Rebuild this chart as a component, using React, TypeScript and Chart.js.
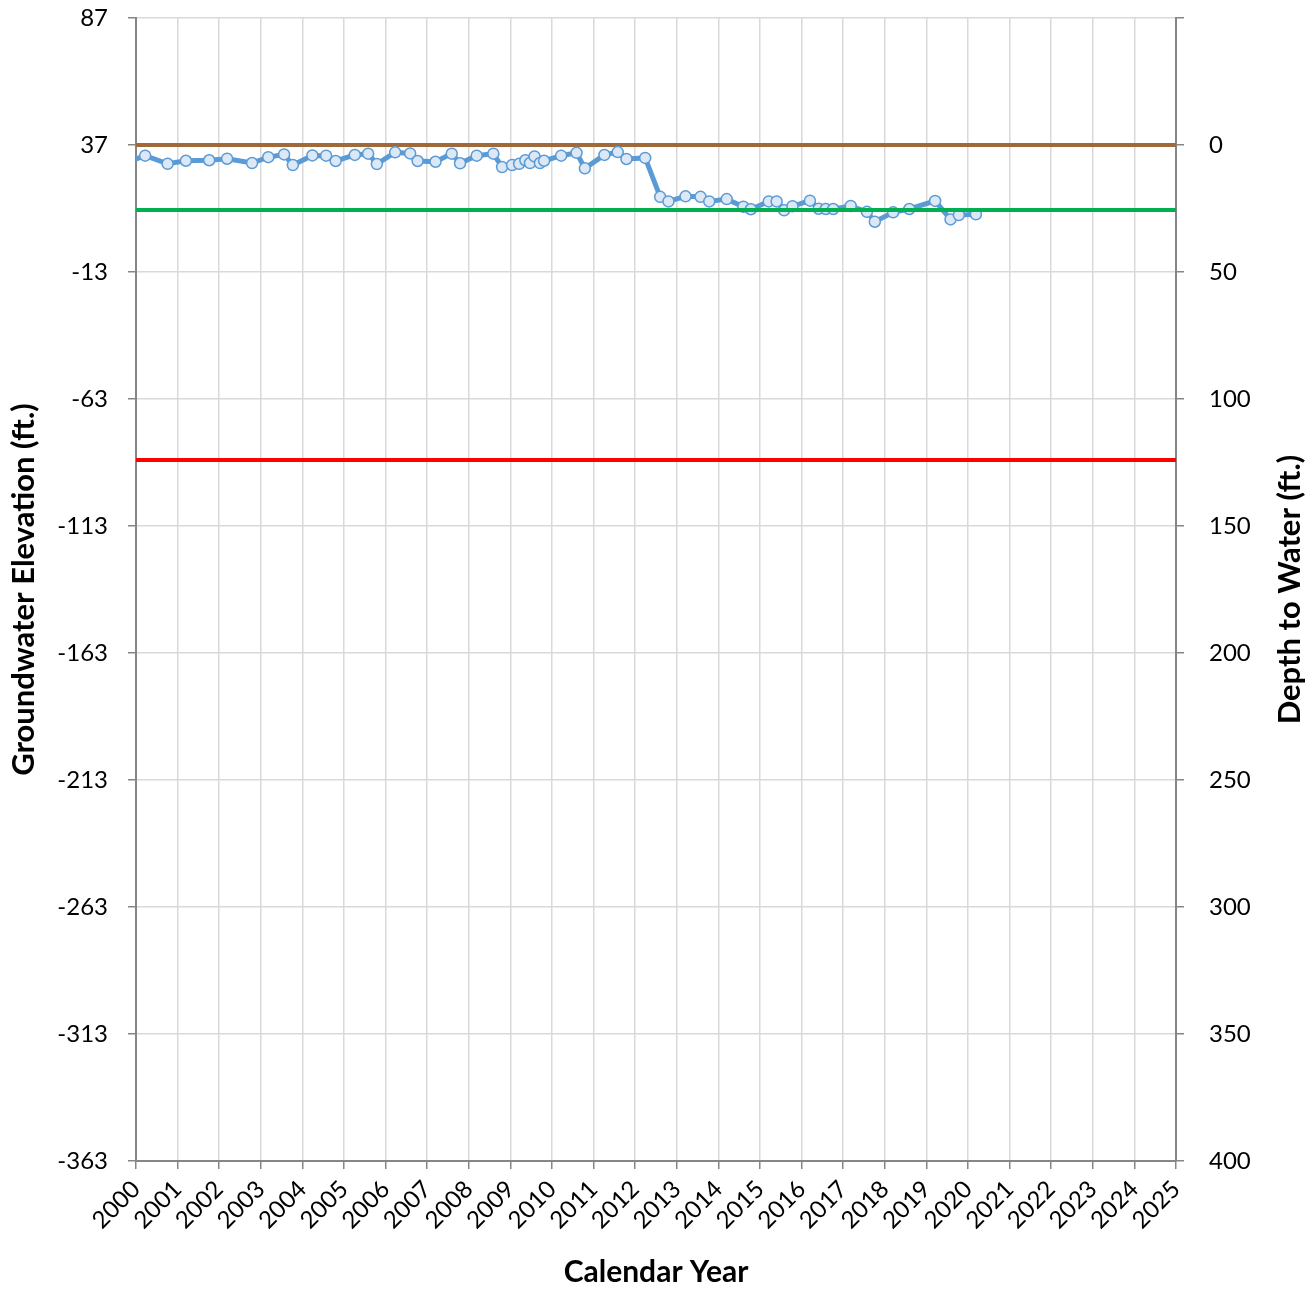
import React, { useEffect, useRef } from "react";
import { Chart, registerables } from "chart.js";

Chart.register(...registerables);

// Groundwater elevation measurements (decimal year, elevation ft)
const obsYears: number[] = [
  1999.78, 2000.22, 2000.76, 2001.2, 2001.76, 2002.19, 2002.79, 2003.18, 2003.56, 2003.77,
  2004.24, 2004.57, 2004.8, 2005.26, 2005.58, 2005.79, 2006.23, 2006.59, 2006.77, 2007.2,
  2007.59, 2007.79, 2008.19, 2008.59, 2008.8, 2009.04, 2009.21, 2009.36, 2009.47, 2009.58,
  2009.71, 2009.81, 2010.22, 2010.59, 2010.79, 2011.26, 2011.58, 2011.79, 2012.24, 2012.6,
  2012.8, 2013.21, 2013.57, 2013.78, 2014.2, 2014.6, 2014.78, 2015.21, 2015.4, 2015.58,
  2015.78, 2016.2, 2016.41, 2016.58, 2016.76, 2017.18, 2017.57, 2017.76, 2018.2, 2018.59,
  2019.21, 2019.58, 2019.78, 2020.19,
];
const obsElevations: number[] = [
  30.2, 32.8, 29.6, 30.8, 31.0, 31.6, 29.9, 32.2, 33.3, 29.1,
  32.9, 32.8, 30.7, 33.1, 33.6, 29.5, 34.1, 33.7, 30.7, 30.4,
  33.6, 29.8, 32.8, 33.6, 28.3, 29.1, 29.6, 31.0, 29.9, 32.5,
  29.9, 30.8, 32.8, 33.9, 27.8, 33.1, 34.2, 31.5, 31.9, 16.6,
  14.8, 16.8, 16.6, 14.8, 15.7, 12.7, 11.7, 14.8, 14.8, 11.3,
  12.9, 15.1, 11.9, 11.8, 11.8, 13.0, 10.7, 6.8, 10.5, 11.8,
  15.0, 7.7, 9.4, 9.7,
];

const groundSurface = 37; // brown line
const greenLevel = 11.4; // green line
const redLevel = -87; // red line

const xRange: number[] = [2000, 2025];
const elevTicks: number[] = [87, 37, -13, -63, -113, -163, -213, -263, -313, -363];
const depthTicks: number[] = [-50, 0, 50, 100, 150, 200, 250, 300, 350, 400];

const FONT = "Lato, 'Open Sans', sans-serif";

export default function App() {
  const ref = useRef<HTMLCanvasElement | null>(null);

  useEffect(() => {
    if (!ref.current) return;
    const seriesData = obsYears.map((x, i) => ({ x, y: obsElevations[i] }));
    const hline = (v: number) => xRange.map((x) => ({ x, y: v }));

    const rightTitle = {
      id: "rightTitle",
      afterDraw(chart: any) {
        const ctx = chart.ctx;
        const area = chart.chartArea;
        ctx.save();
        ctx.translate(1290, (area.top + area.bottom) / 2);
        ctx.rotate(-Math.PI / 2);
        ctx.font = `bold 31px ${FONT}`;
        ctx.fillStyle = "#000";
        ctx.textAlign = "center";
        ctx.textBaseline = "middle";
        ctx.fillText("Depth to Water (ft.)", 0, 0);
        ctx.restore();
      },
    };

    const noPadV = (s: any, w: number) => {
      s.width = w;
      s.paddingTop = 0;
      s.paddingBottom = 0;
    };

    const chart = new Chart(ref.current, {
      type: "line",
      data: {
        datasets: [
          {
            label: "Green",
            data: hline(greenLevel),
            borderColor: "#00b050",
            borderWidth: 4,
            pointRadius: 0,
            yAxisID: "y",
          },
          {
            label: "Groundwater Elevation",
            data: seriesData,
            borderColor: "#5b9bd5",
            borderWidth: 5,
            pointRadius: 5.5,
            pointBackgroundColor: "#dce8f6",
            pointBorderColor: "#5b9bd5",
            pointBorderWidth: 1.5,
            yAxisID: "y",
          },
          {
            label: "Ground Surface",
            data: hline(groundSurface),
            borderColor: "#a0693a",
            borderWidth: 4,
            pointRadius: 0,
            yAxisID: "y",
          },
          {
            label: "Red",
            data: hline(redLevel),
            borderColor: "#ff0000",
            borderWidth: 4,
            pointRadius: 0,
            yAxisID: "y",
          },
        ],
      },
      options: {
        animation: false,
        responsive: false,
        maintainAspectRatio: false,
        layout: { padding: { top: 18, left: 0, right: 0, bottom: 0 } },
        plugins: {
          legend: { display: false },
          tooltip: { enabled: false },
        },
        scales: {
          x: {
            type: "linear",
            min: xRange[0],
            max: xRange[1],
            afterFit: (s: any) => {
              s.height = 129;
              s.paddingLeft = 0;
              s.paddingRight = 0;
            },
            afterBuildTicks: (s: any) => {
              const t = [];
              for (let v = xRange[0]; v <= xRange[1]; v++) t.push({ value: v });
              s.ticks = t;
            },
            ticks: {
              autoSkip: false,
              maxRotation: 45,
              minRotation: 45,
              padding: 6,
              color: "#000",
              font: { family: FONT, size: 24 },
              callback: (v: any) => String(v),
            },
            grid: {
              color: "#d9d9d9",
              lineWidth: 1.5,
              tickColor: "#868686",
              tickLength: 8,
            },
            border: { color: "#868686", width: 2 },
            title: {
              display: true,
              text: "Calendar Year",
              color: "#000",
              font: { family: FONT, size: 30, weight: "bold" },
              padding: { top: 0, bottom: 0 },
            },
          },
          y: {
            type: "linear",
            position: "left",
            min: elevTicks[elevTicks.length - 1],
            max: elevTicks[0],
            afterFit: (s: any) => noPadV(s, 136),
            afterBuildTicks: (s: any) => {
              s.ticks = elevTicks.map((v) => ({ value: v }));
            },
            ticks: {
              padding: 20,
              color: "#000",
              font: { family: FONT, size: 24 },
              callback: (v: any) => String(v),
            },
            grid: {
              color: "#d9d9d9",
              lineWidth: 1.5,
              tickColor: "#868686",
              tickLength: 8,
            },
            border: { color: "#868686", width: 2 },
            title: {
              display: true,
              text: "Groundwater Elevation (ft.)",
              color: "#000",
              font: { family: FONT, size: 31, weight: "bold" },
              padding: { top: 5, bottom: 0 },
            },
          },
          y2: {
            type: "linear",
            position: "right",
            reverse: true,
            min: depthTicks[0],
            max: depthTicks[depthTicks.length - 1],
            afterFit: (s: any) => noPadV(s, 138),
            afterBuildTicks: (s: any) => {
              s.ticks = depthTicks.map((v) => ({ value: v }));
            },
            ticks: {
              padding: 25,
              color: "#000",
              font: { family: FONT, size: 24 },
              callback: (v: any) => (v < 0 ? "" : String(v)),
            },
            grid: {
              drawOnChartArea: false,
              tickColor: "#868686",
              tickLength: 8,
              lineWidth: 1.5,
            },
            border: { color: "#868686", width: 2 },
          },
        },
      },
      plugins: [rightTitle],
    } as any);

    return () => chart.destroy();
  }, []);

  return (
    <div style={{ position: "absolute", left: 0, top: 0, width: 1314, height: 1290, background: "#fff" }}>
      <canvas ref={ref} width={1314} height={1290} style={{ width: 1314, height: 1290, display: "block" }} />
    </div>
  );
}
